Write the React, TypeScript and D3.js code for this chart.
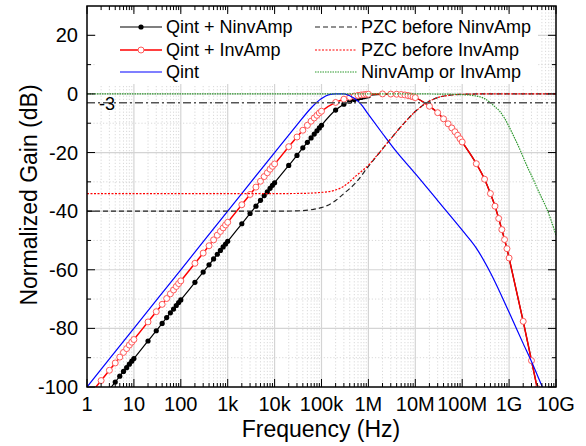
import React from "react";
import * as d3 from "d3";

// ---------- DATA ----------
// sample frequencies (Hz) of the two marked series
const markerFreqs = [
  1, 2, 3, 4, 5, 6, 7, 8, 9,
  10, 20, 30, 40, 50, 60, 70, 80, 90,
  100, 200, 300, 400, 500, 600, 700, 800, 900,
  1e3, 2e3, 3e3, 4e3, 5e3, 6e3, 7e3, 8e3, 9e3,
  1e4, 2e4, 3e4, 4e4, 5e4, 6e4, 7e4, 8e4, 9e4,
  1e5, 2e5, 3e5, 4e5, 5e5, 6e5, 7e5, 8e5, 9e5,
  1e6, 2e6, 3e6, 4e6, 5e6, 6e6, 7e6, 8e6, 9e6,
  1e7, 2e7, 3e7, 4e7, 5e7, 6e7, 7e7, 8e7, 9e7,
  1e8, 2e8, 3e8, 4e8, 5e8, 6e8, 7e8, 8e8, 9e8,
  1e9, 2e9, 3e9, 4e9,
];
// Qint + NinvAmp (dB)
const qintNinvDb = [
  -110.3, -104.3, -100.8, -98.3, -96.3, -94.7, -93.4, -92.2, -91.2,
  -90.3, -84.3, -80.8, -78.3, -76.3, -74.7, -73.4, -72.2, -71.2,
  -70.3, -64.3, -60.8, -58.3, -56.3, -54.7, -53.4, -52.2, -51.2,
  -50.3, -44.3, -40.8, -38.3, -36.3, -34.7, -33.4, -32.2, -31.2,
  -30.3, -24.4, -21.0, -18.4, -16.5, -15.0, -13.7, -12.6, -11.6,
  -10.7, -5.5, -3.5, -2.5, -1.9, -1.5, -1.2, -0.95, -0.75,
  -0.6, -0.15, -0.05, -0.1, -0.2, -0.35, -0.55, -0.75, -1.0,
  -1.25, -4.2, -6.4, -8.5, -10.2, -11.6, -12.9, -14.1, -15.3,
  -16.4, -23.8, -29.1, -34.0, -38.3, -42.5, -46.3, -49.7, -52.8,
  -56.0, -77.6, -91.0, -100.5,
];
// Qint + InvAmp (dB)
const qintInvDb = [
  -103.8, -97.8, -94.3, -91.8, -89.8, -88.2, -86.9, -85.7, -84.7,
  -83.8, -77.8, -74.3, -71.8, -69.8, -68.2, -66.9, -65.7, -64.7,
  -63.8, -57.8, -54.3, -51.8, -49.8, -48.2, -46.9, -45.7, -44.7,
  -43.8, -37.8, -34.3, -31.8, -29.8, -28.2, -26.9, -25.7, -24.7,
  -23.9, -18.0, -14.7, -12.4, -10.7, -9.3, -8.2, -7.3, -6.5,
  -5.9, -2.9, -1.8, -1.1, -0.75, -0.5, -0.35, -0.25, -0.15,
  -0.1, 0, -0.05, -0.1, -0.2, -0.35, -0.55, -0.75, -1.0,
  -1.25, -4.2, -6.4, -8.5, -10.2, -11.6, -12.9, -14.1, -15.3,
  -16.4, -23.8, -29.1, -34.0, -38.3, -42.5, -46.3, -49.7, -52.8,
  -56.0, -77.6, -91.0, -100.5,
];

// Qint
const qintFreqs = [1, 10, 100, 1e3, 1e4, 3e4, 6e4, 1e5, 1.4e5, 2e5, 3e5, 4e5, 5e5, 7e5, 1e6, 2e6, 4e6, 1e7, 3e7, 1e8, 2e8, 4e8, 1e9, 2e9, 3e9, 5e9, 6e9];
const qintDb = [-100, -80, -60, -40, -20, -10.6, -4.8, -1.6, -0.3, 0, 0, -0.6, -1.5, -3.6, -7.0, -13.5, -19.8, -27.2, -36.4, -46.5, -52.6, -61.0, -74.5, -85.2, -91.3, -99.6, -102.5];

// PZC curves
const pzcFreqs = [1, 1e3, 1e4, 3e4, 1e5, 1.8e5, 3e5, 5.6e5, 1e6, 1.8e6, 3e6, 5.6e6, 1e7, 1.8e7, 3e7, 5.6e7, 1e8, 3e8, 1e9, 1e10];
const pzcNinvDb = [-40, -40, -40, -39.9, -38.8, -36.9, -34.0, -30.0, -24.7, -19.7, -15.3, -10.2, -6.0, -2.9, -1.25, -0.4, -0.13, 0, 0, 0];
const pzcInvDb = [-34, -34, -34, -33.97, -33.6, -33.0, -31.5, -27.8, -24.3, -19.6, -15.3, -10.2, -6.0, -2.9, -1.25, -0.4, -0.13, 0, 0, 0];

// Amplifier alone
const ampFreqs = [1, 1e7, 5.6e7, 1e8, 1.8e8, 3e8, 4e8, 5e8, 6.3e8, 8e8, 1e9, 1.26e9, 1.6e9, 2e9, 2.5e9, 3.2e9, 4e9, 5e9, 6.3e9, 8e9, 1e10];
const ampDb = [0, 0, -0.1, -0.25, -0.6, -1.6, -3.0, -4.4, -5.9, -8.3, -11.2, -14.5, -18, -21.6, -25.2, -28.8, -32.3, -35.6, -39.0, -43.5, -48.2];

const xTickValues = [1, 10, 100, 1e3, 1e4, 1e5, 1e6, 1e7, 1e8, 1e9, 1e10];
const xTickLabels = ["1", "10", "100", "1k", "10k", "100k", "1M", "10M", "100M", "1G", "10G"];
const yTickValues = [-100, -80, -60, -40, -20, 0, 20];
const yMinorValues = [-90, -70, -50, -30, -10, 10];

const FONT = "'Liberation Sans', Arial, Helvetica, sans-serif";
const GREEN = "#2f9a2f";

export default function App() {
  const W = 586, H = 446;
  const L = 87, R = 556, T = 6, B = 387;
  const x = d3.scaleLog().domain([1, 1e10]).range([L, R]);
  const y = d3.scaleLinear().domain([-100, 30]).range([B, T]);

  const minorX: number[] = [];
  for (let k = 0; k < 10; k++) for (let m = 2; m <= 9; m++) minorX.push(m * Math.pow(10, k));

  const line = d3
    .line<[number, number]>()
    .x((d) => x(d[0]))
    .y((d) => y(d[1]))
    .curve(d3.curveMonotoneX);

  const zip = (fs: number[], vs: number[]) => fs.map((f, i) => [f, vs[i]] as [number, number]);
  const black = zip(markerFreqs, qintNinvDb);
  const red = zip(markerFreqs, qintInvDb);
  const blue = zip(qintFreqs, qintDb);
  const pN = zip(pzcFreqs, pzcNinvDb);
  const pI = zip(pzcFreqs, pzcInvDb);
  const amp = zip(ampFreqs, ampDb);

  return (
    <svg width={W} height={H} style={{ position: "absolute", left: 0, top: 0, background: "#fff" }} fontFamily={FONT}>
      <defs>
        <clipPath id="plot">
          <rect x={L} y={T} width={R - L} height={B - T} />
        </clipPath>
      </defs>
      <rect x={0} y={0} width={W} height={H} fill="#fff" />
      {/* grid */}
      <g>
        {minorX.map((v, i) => (
          <line key={"mx" + i} x1={x(v)} x2={x(v)} y1={T} y2={B} stroke="#cfcfcf" strokeWidth={0.8} strokeDasharray="1.2,2" />
        ))}
        {yMinorValues.map((v, i) => (
          <line key={"my" + i} x1={L} x2={R} y1={y(v)} y2={y(v)} stroke="#cfcfcf" strokeWidth={0.8} strokeDasharray="1.2,2" />
        ))}
        {xTickValues.slice(1, -1).map((v, i) => (
          <line key={"gx" + i} x1={x(v)} x2={x(v)} y1={T} y2={B} stroke="#d4d4d4" strokeWidth={1.2} />
        ))}
        {yTickValues.slice(1).map((v, i) => (
          <line key={"gy" + i} x1={L} x2={R} y1={y(v)} y2={y(v)} stroke="#d4d4d4" strokeWidth={1.2} />
        ))}
      </g>
      {/* curves */}
      <g clipPath="url(#plot)">
        <path d={line(black) || ""} fill="none" stroke="#000" strokeWidth={1.2} />
        {black.map((d, i) => (
          <circle key={"bm" + i} cx={x(d[0])} cy={y(d[1])} r={2.6} fill="#000" />
        ))}
        <path d={line(red) || ""} fill="none" stroke="#ff0000" strokeWidth={1.5} />
        {red.map((d, i) => (
          <circle key={"rm" + i} cx={x(d[0])} cy={y(d[1])} r={3} fill="#fff" stroke="#ff5a5a" strokeWidth={1} />
        ))}
        <path d={line(blue) || ""} fill="none" stroke="#0000ff" strokeWidth={1.2} />
        <path d={line(pN) || ""} fill="none" stroke="#222" strokeWidth={1.2} strokeDasharray="5,3" />
        <path d={line(pI) || ""} fill="none" stroke="#ff0000" strokeWidth={1.2} strokeDasharray="2,1.5" />
        <path d={line(amp) || ""} fill="none" stroke={GREEN} strokeWidth={1.2} strokeDasharray="1.5,1" />
        <line x1={L} x2={R} y1={y(-3)} y2={y(-3)} stroke="#555" strokeWidth={1.4} strokeDasharray="8,3,2,3" />
      </g>
      <text x={99} y={110} fontSize={18} fill="#000">-3</text>
      {/* legend */}
      <g>
        <rect x={96} y={12} width={442} height={72} fill="#fff" />
        {[
          { y: 27, x: 120, label: "Qint + NinvAmp", stroke: "#000", dash: "", w: 1.2, marker: "filled" },
          { y: 50, x: 120, label: "Qint + InvAmp", stroke: "#ff0000", dash: "", w: 1.5, marker: "open" },
          { y: 72, x: 120, label: "Qint", stroke: "#0000ff", dash: "", w: 1.2, marker: "" },
          { y: 27, x: 315, label: "PZC before NinvAmp", stroke: "#222", dash: "5,3", w: 1.2, marker: "" },
          { y: 50, x: 315, label: "PZC before InvAmp", stroke: "#ff0000", dash: "2,1.5", w: 1.2, marker: "" },
          { y: 72, x: 315, label: "NinvAmp or InvAmp", stroke: GREEN, dash: "1.5,1", w: 1.2, marker: "" },
        ].map((e, i) => (
          <g key={"lg" + i}>
            <line x1={e.x} x2={e.x + 42} y1={e.y} y2={e.y} stroke={e.stroke} strokeWidth={e.w} strokeDasharray={e.dash || undefined} />
            {e.marker === "filled" && <circle cx={e.x + 21} cy={e.y} r={2.6} fill="#000" />}
            {e.marker === "open" && <circle cx={e.x + 21} cy={e.y} r={3} fill="#fff" stroke="#ff5a5a" strokeWidth={1} />}
            <text x={e.x + 46} y={e.y} fontSize={18} dominantBaseline="central" fill="#000">{e.label}</text>
          </g>
        ))}
      </g>
      {/* ticks */}
      <g stroke="#000" strokeWidth={1}>
        {minorX.filter((v) => v < 1e10).map((v, i) => (
          <g key={"mt" + i}>
            <line x1={x(v)} x2={x(v)} y1={B} y2={B - 4} />
            <line x1={x(v)} x2={x(v)} y1={T} y2={T + 4} />
          </g>
        ))}
        {xTickValues.map((v, i) => (
          <g key={"Mt" + i}>
            <line x1={x(v)} x2={x(v)} y1={B} y2={B - 8} />
            <line x1={x(v)} x2={x(v)} y1={T} y2={T + 8} />
          </g>
        ))}
        {yMinorValues.map((v, i) => (
          <g key={"myt" + i}>
            <line x1={L} x2={L + 4} y1={y(v)} y2={y(v)} />
            <line x1={R} x2={R - 4} y1={y(v)} y2={y(v)} />
          </g>
        ))}
        {yTickValues.map((v, i) => (
          <g key={"Myt" + i}>
            <line x1={L} x2={L + 8} y1={y(v)} y2={y(v)} />
            <line x1={R} x2={R - 8} y1={y(v)} y2={y(v)} />
          </g>
        ))}
      </g>
      <rect x={L} y={T} width={R - L} height={B - T} fill="none" stroke="#000" strokeWidth={1.5} />
      {/* tick labels */}
      {xTickValues.map((v, i) => (
        <text key={"xl" + i} x={x(v)} y={411} fontSize={20} textAnchor="middle" fill="#000">{xTickLabels[i]}</text>
      ))}
      {yTickValues.map((v, i) => (
        <text key={"yl" + i} x={78} y={y(v)} fontSize={20} textAnchor="end" dominantBaseline="central" fill="#000">{v}</text>
      ))}
      <text x={321} y={437} fontSize={23} textAnchor="middle" fill="#000">Frequency (Hz)</text>
      <text transform="translate(37,195) rotate(-90)" fontSize={23} textAnchor="middle" fill="#000">Normalized Gain (dB)</text>
    </svg>
  );
}
